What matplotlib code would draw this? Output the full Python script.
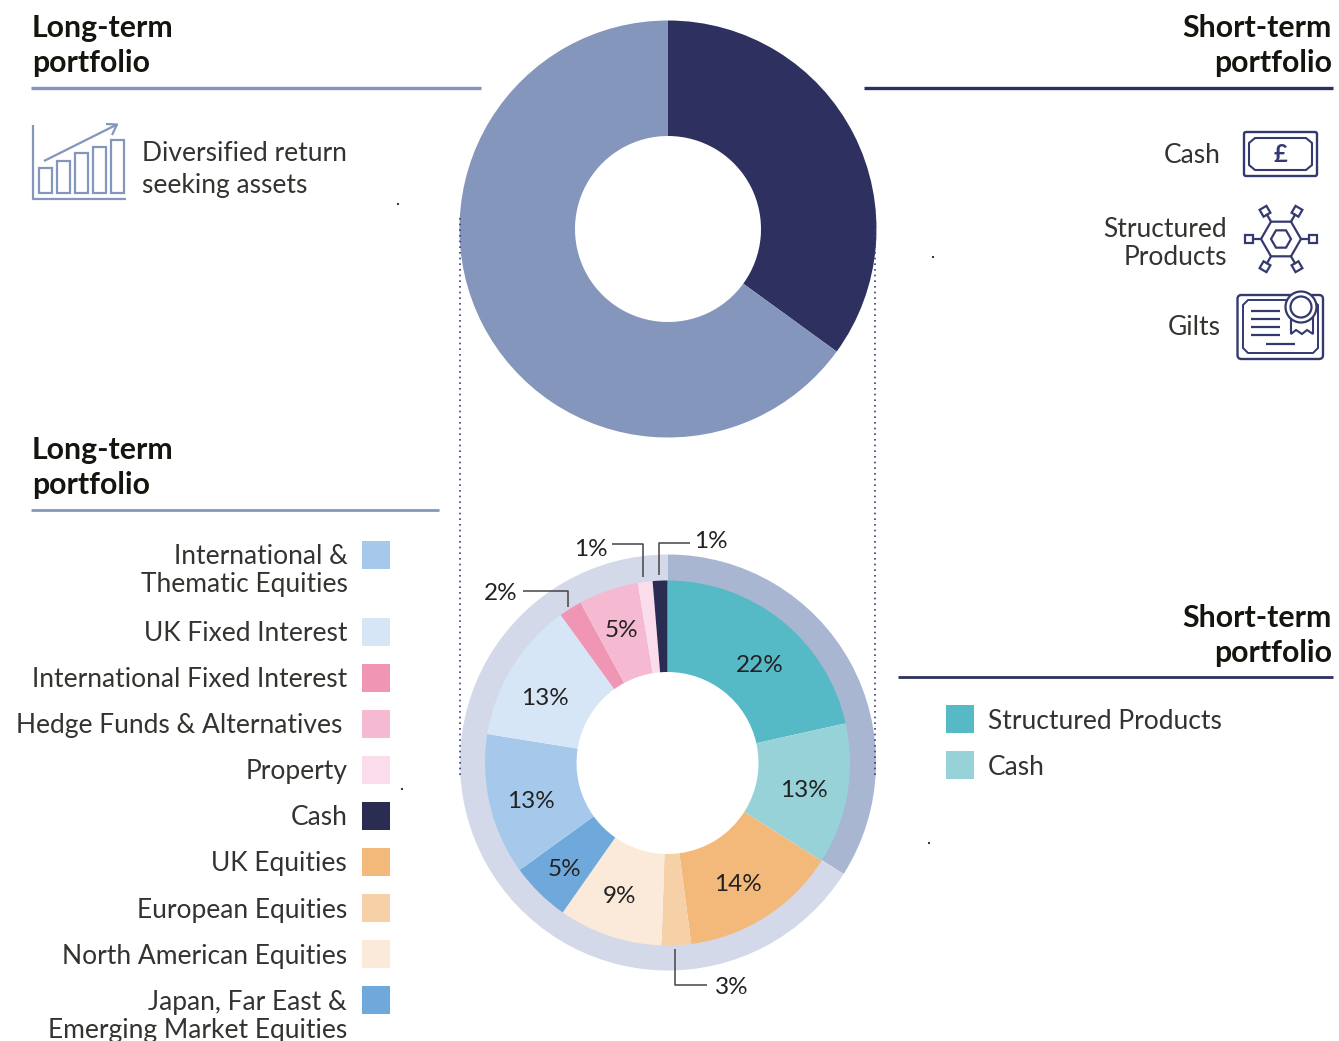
import numpy as np
import matplotlib
matplotlib.use('Agg')
import matplotlib.pyplot as plt
from matplotlib.patches import Rectangle, Circle, FancyBboxPatch, Polygon

plt.rcParams['font.family'] = ['Lato', 'DejaVu Sans']

# top donut
top_values = [35, 65]
top_colors = ['#2E315F', '#8496BC']

# bottom donut, outer ring
ring_values = [34, 66]
ring_colors = ['#A9B6D1', '#D3D9E8']

# bottom donut, clockwise from the top
slice_values = [21.5, 12.5, 13.9, 2.6, 9.2, 5.3, 12.5, 12.5, 2.05, 5.3, 1.3, 1.3]
slice_labels = ['22%', '13%', '14%', '3%', '9%', '5%', '13%', '13%', '2%', '5%', '1%', '1%']
slice_colors = ['#55B9C6', '#97D2D9', '#F3B97B', '#F6D1A8', '#FBE9DA', '#6FA9DC',
                '#A6C9EB', '#D7E6F6', '#F195B5', '#F5B9D1', '#FBDCEA', '#2B2C52']
# where the label sits, in pixels
label_pos = [(760, 663), (804, 788), (738, 882), (732, 985), (619, 894), (564, 867),
             (531, 799), (545, 696), (501, 591), (621, 628), (591, 547), (711, 539)]

legend_left = [('International &\nThematic Equities', 348, 568, '#A6C9EB', 555),
               ('UK Fixed Interest', 348, 631, '#D7E6F6', 632),
               ('International Fixed Interest', 347, 677, '#F195B5', 678),
               ('Hedge Funds & Alternatives', 342, 723, '#F5B9D1', 724),
               ('Property', 348, 769, '#FBDCEA', 770),
               ('Cash', 348, 815, '#2B2C52', 816),
               ('UK Equities', 347, 861, '#F3B97B', 862),
               ('European Equities', 347, 908, '#F6D1A8', 908),
               ('North American Equities', 347, 954, '#FBE9DA', 954),
               ('Japan, Far East &\nEmerging Market Equities', 347, 1014, '#6FA9DC', 1000)]
legend_right = [('Structured Products', 719, '#55B9C6'), ('Cash', 765, '#97D2D9')]

NAVY = '#2E315F'
BLUE = '#8496BC'
ICON = '#34396F'
TEXT = '#333330'
HEAD = '#15150F'

fig = plt.figure(figsize=(13.39, 10.41), dpi=100)
ax = fig.add_axes([0, 0, 1, 1])


def Y(y):
    return 1041 - y


def line(xs, ys, color=TEXT, lw=1.0, **kw):
    ax.plot(xs, [Y(v) for v in ys], color=color, lw=lw, solid_capstyle='butt', **kw)


def txt(x, y, s, size=19, ha='left', color=TEXT, weight='normal', spacing=1.19):
    # Lato sits a little high when centred
    ax.text(x, Y(y + 2.5), s, fontsize=size, ha=ha, va='center', color=color, weight=weight,
            linespacing=spacing)


def head(x, y, s, ha='left'):
    txt(x, y, s, size=21.8, ha=ha, color=HEAD, weight='bold', spacing=1.3)


# donuts
ax.pie(top_values, colors=top_colors, startangle=90, counterclock=False, radius=208.5,
       center=(668, Y(229)), wedgeprops=dict(width=208.5 - 93, linewidth=0))
ax.pie(ring_values, colors=ring_colors, startangle=90, counterclock=False, radius=208,
       center=(668, Y(762.5)), wedgeprops=dict(width=30, linewidth=0))
ax.pie(slice_values, colors=slice_colors, startangle=90, counterclock=False, radius=182.5,
       center=(667.5, Y(763)), wedgeprops=dict(width=182.5 - 91, linewidth=0))

ax.set_xlim(0, 1339)
ax.set_ylim(0, 1041)
ax.axis('off')

for (x, y), s in zip(label_pos, slice_labels):
    txt(x, y, s, size=17.5, ha='center', color='#222222')

# leader lines
line([612, 643, 643], [544, 544, 577], color='#444444', lw=1.1)
line([690, 659, 659], [543, 543, 575], color='#444444', lw=1.1)
line([523, 568, 568], [591, 591, 607], color='#444444', lw=1.1)
line([675, 675, 707], [949, 985, 985], color='#444444', lw=1.1)

# dotted drop lines
for x in (460, 875):
    ax.plot([x, x], [Y(218), Y(775)], color='#3A3C78', lw=1.2, ls=(0, (1, 2.4)))

# specks
for x, y in [(398, 204), (933, 257), (402, 789), (929, 843)]:
    ax.add_patch(Circle((x, Y(y)), 1.1, color='#222222', lw=0))

# headers
head(32, 43, 'Long-term\nportfolio')
head(32, 465, 'Long-term\nportfolio')
head(1332, 43, 'Short-term\nportfolio', ha='right')
head(1332, 633, 'Short-term\nportfolio', ha='right')
line([31, 481], [88, 88], color=BLUE, lw=2.4)
line([864, 1333], [88, 88], color=NAVY, lw=2.4)
line([31, 439], [510, 510], color=BLUE, lw=2.0)
line([898, 1333], [677, 677], color=NAVY, lw=2.0)

# top left key
txt(142, 167, 'Diversified return\nseeking assets', spacing=1.31)
line([32.5, 32.5, 126], [125, 199, 199], color=BLUE, lw=1.6)
for x0, y0 in [(39, 168), (57, 161), (75, 153), (93, 147), (111, 140)]:
    ax.add_patch(Rectangle((x0, Y(193)), 13, 193 - y0, fill=False, ec=BLUE, lw=1.6))
line([44, 116], [161, 125], color=BLUE, lw=1.6)
line([106, 117, 112], [124, 124.5, 135], color=BLUE, lw=1.6)

# top right key
txt(1221, 153, 'Cash', ha='right')
txt(1227, 241, 'Structured\nProducts', ha='right')
txt(1221, 325, 'Gilts', ha='right')

ax.add_patch(FancyBboxPatch((1244, Y(176)), 73, 44, boxstyle='round,pad=0,rounding_size=2',
                            fill=False, ec=ICON, lw=1.7))
n = 5
cash_x = [1250 + n, 1306, 1312, 1312, 1306, 1250 + n, 1249, 1249]
cash_y = [138, 138, 138 + n, 170 - n, 170, 170, 170 - n, 138 + n]
ax.add_patch(Polygon(np.column_stack([cash_x, [Y(v) for v in cash_y]]), closed=True, fill=False, ec=ICON, lw=1.5))
ax.text(1281, Y(155), '£', fontsize=17, color=ICON, ha='center', va='center', weight='bold')

# hexagon icon
hx, hy = 1281, 239
ang = np.radians(np.arange(0, 360, 60))
for r in (20, 10):
    ax.add_patch(Polygon(np.column_stack([hx + r * np.cos(ang), Y(hy) + r * np.sin(ang)]),
                         closed=True, fill=False, ec=ICON, lw=1.6))
for a in ang:
    d = 32
    ax.plot([hx + 20 * np.cos(a), hx + (d - 4) * np.cos(a)],
            [Y(hy) + 20 * np.sin(a), Y(hy) + (d - 4) * np.sin(a)], color=ICON, lw=1.6)
    th = a + np.radians(45) + np.arange(4) * np.pi / 2
    ax.add_patch(Polygon(np.column_stack([hx + d * np.cos(a) + 5.6 * np.cos(th),
                                          Y(hy) + d * np.sin(a) + 5.6 * np.sin(th)]),
                         closed=True, fill=False, ec=ICON, lw=1.6))

# certificate icon
ax.add_patch(FancyBboxPatch((1237.5, Y(359)), 85.5, 64, boxstyle='round,pad=0,rounding_size=4',
                            fill=False, ec=ICON, lw=1.7))
cert_x = [1243 + n, 1318 - n, 1318, 1318, 1318 - n, 1243 + n, 1243, 1243]
cert_y = [300, 300, 300 + n, 353 - n, 353, 353, 353 - n, 300 + n]
ax.add_patch(Polygon(np.column_stack([cert_x, [Y(v) for v in cert_y]]), closed=True, fill=False, ec=ICON, lw=1.4))
for yy in (311, 319, 327, 335):
    line([1251, 1280], [yy, yy], color=ICON, lw=1.6)
line([1266, 1295], [344, 344], color=ICON, lw=1.6)
ax.add_patch(Polygon([(1291, Y(315)), (1291, Y(334)), (1296, Y(330)), (1302, Y(334)), (1307, Y(330)),
                      (1313, Y(334)), (1313, Y(315))], closed=True, fc='white', ec=ICON, lw=1.5, zorder=3))
ax.add_patch(Circle((1301, Y(307)), 15.5, fc='white', ec=ICON, lw=1.6, zorder=4))
ax.add_patch(Circle((1301, Y(307)), 10.5, fc='white', ec=ICON, lw=1.6, zorder=5))

# legends
for label, x, y, c, sw in legend_left:
    txt(x, y, label, ha='right')
    ax.add_patch(Rectangle((362, Y(sw + 14)), 28, 28, fc=c, lw=0))
for label, y, c in legend_right:
    txt(988, y, label)
    ax.add_patch(Rectangle((946, Y(y + 14)), 28, 28, fc=c, lw=0))

fig.savefig('out.png', dpi=100)
